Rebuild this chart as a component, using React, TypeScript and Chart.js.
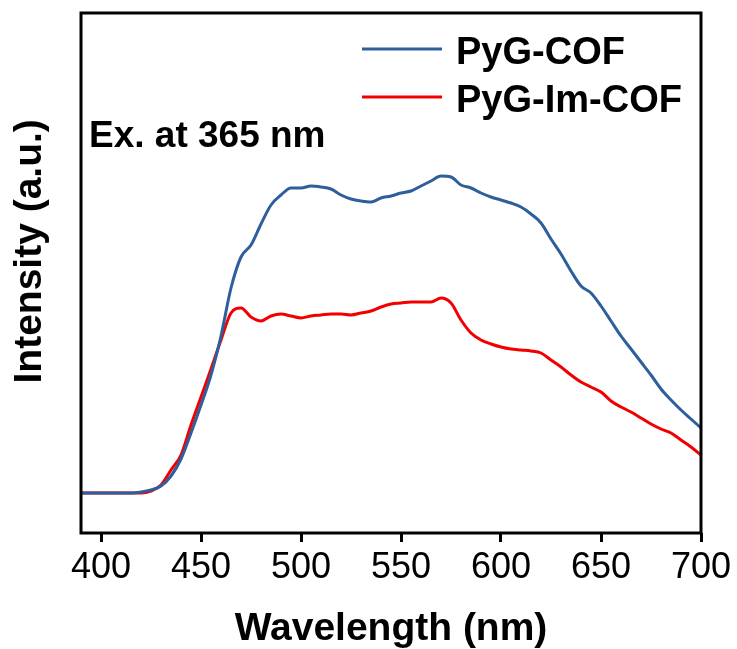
import React, { useEffect, useRef } from 'react';
import { Chart, registerables } from 'chart.js';

Chart.register(...registerables);

// ---- data ----
const wavelengths = [
  390, 395, 400, 405, 410, 415, 420, 425, 430, 435, 440, 445, 450, 455, 460, 465, 470, 475, 480, 485,
  490, 495, 500, 505, 510, 515, 520, 525, 530, 535, 540, 545, 550, 555, 560, 565, 570, 575, 580, 585,
  590, 595, 600, 605, 610, 615, 620, 625, 630, 635, 640, 645, 650, 655, 660, 665, 670, 675, 680, 685,
  690, 695, 700,
];
const pygCOF = [
  0, 0, 0, 0, 0, 0, 1, 3, 7, 17, 34, 60, 88, 118, 157, 205, 236, 248, 269, 288,
  298, 305, 305, 307, 306, 304, 298, 294, 292, 291, 295, 297, 300, 302, 307, 312, 317, 316, 308, 305,
  300, 296, 293, 290, 286, 279, 270, 254, 239, 222, 207, 200, 187, 172, 157, 144, 131, 118, 104, 93,
  83, 74, 65,
];
const pygImCOF = [
  0, 0, 0, 0, 0, 0, 0, 2, 8, 23, 38, 68, 96, 124, 153, 180, 185, 176, 172, 177,
  179, 177, 175, 177, 178, 179, 179, 178, 180, 182, 186, 189, 190, 191, 191, 191, 195, 190, 173, 160,
  153, 149, 146, 144, 143, 142, 140, 133, 126, 118, 111, 106, 101, 92, 86, 81, 75, 69, 64, 60,
  53, 46, 38,
];
const seriesLabels = ['PyG-COF', 'PyG-Im-COF'];
const seriesColors = ['#2E5E9B', '#F20000'];
const xTickValues = [400, 450, 500, 550, 600, 650, 700];
const xTitle = 'Wavelength (nm)';
const yTitle = 'Intensity (a.u.)';
const noteText = 'Ex. at 365 nm';

const FONT = '"Liberation Sans", Arial, Helvetica, sans-serif';

const framePlugin = {
  id: 'frameAndLegend',
  afterDraw(chart: any) {
    const { ctx, chartArea } = chart;
    ctx.save();
    // frame
    ctx.strokeStyle = '#000';
    ctx.lineWidth = 3;
    ctx.strokeRect(chartArea.left, chartArea.top, chartArea.right - chartArea.left, chartArea.bottom - chartArea.top);
    // legend
    const legendYs = [49, 97];
    chart.data.datasets.forEach((ds: any, i: number) => {
      const y = legendYs[i];
      ctx.strokeStyle = ds.borderColor;
      ctx.lineWidth = 3;
      ctx.beginPath();
      ctx.moveTo(362, y);
      ctx.lineTo(442, y);
      ctx.stroke();
      ctx.fillStyle = '#000';
      ctx.font = `bold 38px ${FONT}`;
      ctx.textBaseline = 'alphabetic';
      ctx.textAlign = 'left';
      ctx.fillText(ds.label, 456, y + 15);
    });
    // annotation
    ctx.fillStyle = '#000';
    ctx.font = `bold 37px ${FONT}`;
    ctx.textBaseline = 'alphabetic';
    ctx.fillText(noteText, 89, 147);
    ctx.restore();
  },
};

export default function App() {
  const ref = useRef<HTMLCanvasElement | null>(null);
  useEffect(() => {
    if (!ref.current) return;
    const chart = new Chart(ref.current, {
      type: 'line',
      data: {
        datasets: [pygCOF, pygImCOF].map((vals, i) => ({
          label: seriesLabels[i],
          data: wavelengths.map((w, j) => ({ x: w, y: vals[j] })),
          borderColor: seriesColors[i],
          backgroundColor: seriesColors[i],
          borderWidth: 3,
          pointRadius: 0,
          cubicInterpolationMode: 'monotone' as const,
          fill: false,
        })),
      },
      options: {
        animation: false,
        responsive: false,
        devicePixelRatio: 1,
        layout: { padding: { top: 13, right: 36, left: 0, bottom: 0 } },
        plugins: { legend: { display: false }, tooltip: { enabled: false } },
        scales: {
          x: {
            type: 'linear',
            min: 390,
            max: 700,
            afterBuildTicks: (scale: any) => {
              scale.ticks = xTickValues.map((v) => ({ value: v }));
            },
            afterFit: (scale: any) => {
              scale.height = 116;
            },
            grid: { display: true, drawOnChartArea: false, drawTicks: true, tickLength: 9, lineWidth: 3, color: '#000' },
            border: { display: false },
            ticks: { color: '#000', font: { family: FONT, size: 36 }, padding: 4, maxRotation: 0, autoSkip: false },
            title: { display: true, text: xTitle, color: '#000', font: { family: FONT, size: 39, weight: 'bold' }, padding: { top: 0, bottom: -4 } },
          },
          y: {
            type: 'linear',
            min: -40,
            max: 480,
            afterFit: (scale: any) => {
              scale.width = 81;
            },
            grid: { display: false },
            border: { display: false },
            ticks: { display: false },
            title: { display: true, text: '    ' + yTitle, color: '#000', font: { family: FONT, size: 39, weight: 'bold' }, padding: { top: 7, bottom: 0 } },
          },
        },
      },
      plugins: [framePlugin],
    });
    return () => chart.destroy();
  }, []);
  return (
    <div style={{ position: 'fixed', left: 0, top: 0, width: 737, height: 649, background: '#fff' }}>
      <canvas ref={ref} width={737} height={649} style={{ width: 737, height: 649 }} />
    </div>
  );
}
